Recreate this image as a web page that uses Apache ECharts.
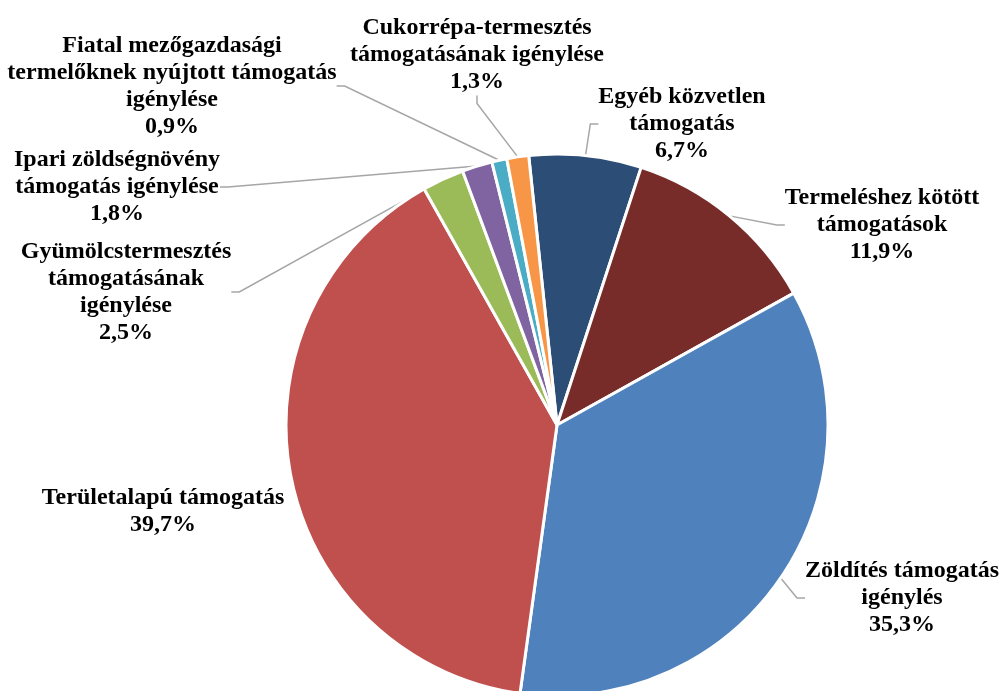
<!DOCTYPE html>
<html>
<head>
<meta charset="utf-8">
<script src="https://cdn.jsdelivr.net/npm/echarts@6/dist/echarts.min.js"></script>
<style>
html,body{margin:0;padding:0;background:#fff;}
#chart{width:1000px;height:691px;}
</style>
</head>
<body>
<div id="chart"></div>
<script>
const categories = [
  'Egyéb közvetlen\ntámogatás',
  'Termeléshez kötött\ntámogatások',
  'Zöldítés támogatás\nigénylés',
  'Területalapú támogatás',
  'Gyümölcstermesztés\ntámogatásának\nigénylése',
  'Ipari zöldségnövény\ntámogatás igénylése',
  'Fiatal mezőgazdasági\ntermelőknek nyújtott támogatás\nigénylése',
  'Cukorrépa-termesztés\ntámogatásának igénylése'
];
const values = [6.7, 11.9, 35.3, 39.7, 2.5, 1.8, 0.9, 1.3];
const colors = ['#2C4D75', '#772C2A', '#4F81BD', '#C0504D', '#9BBB59', '#8064A2', '#4BACC6', '#F79646'];
// label block centres (layout only)
const labelPos = [
  [682, 124], [882, 225], [902, 598], [163, 511],
  [126, 292], [117, 187], [172, 86], [477, 55]
];

const chart = echarts.init(document.getElementById('chart'));
chart.setOption({
  animation: false,
  series: [{
    type: 'pie',
    center: [557, 425],
    radius: 271,
    startAngle: 96,
    clockwise: true,
    itemStyle: { borderColor: '#fff', borderWidth: 3 },
    label: {
      show: true,
      position: 'outside',
      color: '#000',
      fontFamily: 'Liberation Serif',
      fontWeight: 'bold',
      fontSize: 24,
      lineHeight: 27,
      align: 'center',
      overflow: 'none',
      formatter: p => p.name + '\n' + String(p.value).replace('.', ',') + '%'
    },
    labelLine: {
      show: true,
      length: 8,
      length2: 8,
      lineStyle: { color: '#A6A6A6', width: 1.5 }
    },
    labelLayout: function (params) {
      const p = labelPos[params.dataIndex];
      return { x: p[0], y: p[1], align: 'center', verticalAlign: 'middle' };
    },
    data: categories.map((c, i) => ({
      name: c,
      value: values[i],
      itemStyle: { color: colors[i] },
      labelLine: { show: i !== 3 }
    }))
  }]
});
</script>
</body>
</html>
